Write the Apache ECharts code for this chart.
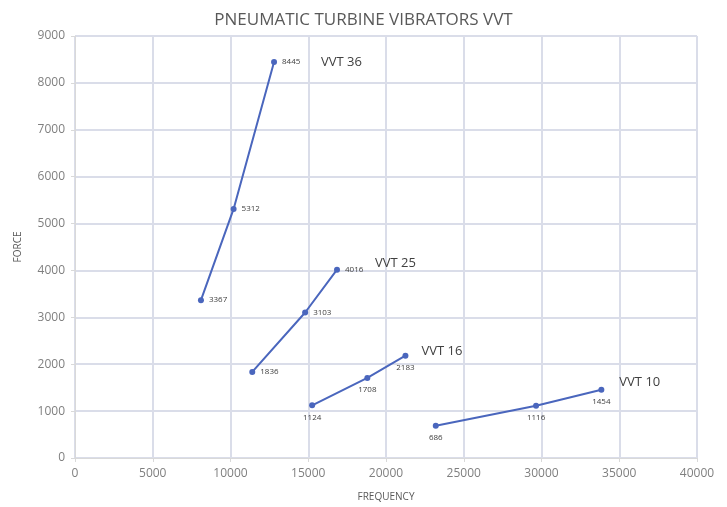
<!DOCTYPE html>
<html>
<head>
<meta charset="utf-8">
<script src="https://cdn.jsdelivr.net/npm/echarts@6/dist/echarts.min.js"></script>
<style>
html,body{margin:0;padding:0;background:#fff;}
#main{width:727px;height:507px;}
</style>
</head>
<body>
<div id="main"></div>
<script>
// 数据
var names = ['VVT 36', 'VVT 25', 'VVT 16', 'VVT 10'];
var vvt36Freq = [8100, 10200, 12800];
var vvt36Force = [3367, 5312, 8445];
var vvt25Freq = [11400, 14800, 16850];
var vvt25Force = [1836, 3103, 4016];
var vvt16Freq = [15250, 18800, 21250];
var vvt16Force = [1124, 1708, 2183];
var vvt10Freq = [23200, 29650, 33850];
var vvt10Force = [686, 1116, 1454];

var lineColor = '#4a66bd';

function pairs(xs, ys) {
    var out = [];
    for (var i = 0; i < xs.length; i++) out.push([xs[i], ys[i]]);
    return out;
}

function mkSeries(name, xs, ys, labelPos, endOffset) {
    return {
        name: name,
        type: 'line',
        data: pairs(xs, ys),
        symbol: 'circle',
        symbolSize: 6,
        lineStyle: { color: lineColor, width: 2 },
        itemStyle: { color: lineColor },
        label: {
            show: true,
            position: labelPos,
            distance: 5,
            fontSize: 8,
            color: '#404040',
            fontFamily: 'Open Sans',
            formatter: function (p) { return p.value[1]; }
        },
        endLabel: {
            show: true,
            formatter: name,
            fontSize: 13,
            color: '#404040',
            fontFamily: 'Open Sans',
            offset: endOffset
        }
    };
}

var chart = echarts.init(document.getElementById('main'));
var option = {
    animation: false,
    title: {
        text: 'PNEUMATIC TURBINE VIBRATORS VVT',
        left: 'center',
        top: 7,
        textStyle: { fontSize: 17, fontWeight: 'normal', color: '#595959', fontFamily: 'Open Sans' }
    },
    grid: { left: 75, right: 30, top: 36, bottom: 48 },
    xAxis: {
        type: 'value',
        min: 0, max: 40000, interval: 5000,
        name: 'FREQUENCY',
        nameLocation: 'middle',
        nameGap: 34,
        nameTextStyle: { fontSize: 10, color: '#595959', fontFamily: 'Open Sans' },
        axisLine: { lineStyle: { color: '#d9d9d9' } },
        axisTick: { show: true, length: 4, lineStyle: { color: '#d9d9d9' } },
        axisLabel: { fontSize: 12, color: '#7f7f7f', fontFamily: 'Open Sans', margin: 10,
            formatter: function (v) { return String(v); } },
        splitLine: { lineStyle: { color: '#dadde9', width: 2 } }
    },
    yAxis: {
        type: 'value',
        min: 0, max: 9000, interval: 1000,
        name: 'FORCE',
        nameLocation: 'middle',
        nameGap: 52,
        nameTextStyle: { fontSize: 10, color: '#595959', fontFamily: 'Open Sans' },
        axisLine: { show: true, lineStyle: { color: '#d9d9d9' } },
        axisTick: { show: true, length: 4, lineStyle: { color: '#d9d9d9' } },
        axisLabel: { fontSize: 12, color: '#7f7f7f', fontFamily: 'Open Sans', margin: 10,
            formatter: function (v) { return String(v); } },
        splitLine: { lineStyle: { color: '#dadde9', width: 2 } }
    },
    series: [
        mkSeries(names[0], vvt36Freq, vvt36Force, 'right', [39, 0]),
        mkSeries(names[1], vvt25Freq, vvt25Force, 'right', [30, -6]),
        mkSeries(names[2], vvt16Freq, vvt16Force, 'bottom', [8, -4]),
        mkSeries(names[3], vvt10Freq, vvt10Force, 'bottom', [10, -8])
    ]
};
chart.setOption(option, true);
</script>
</body>
</html>
